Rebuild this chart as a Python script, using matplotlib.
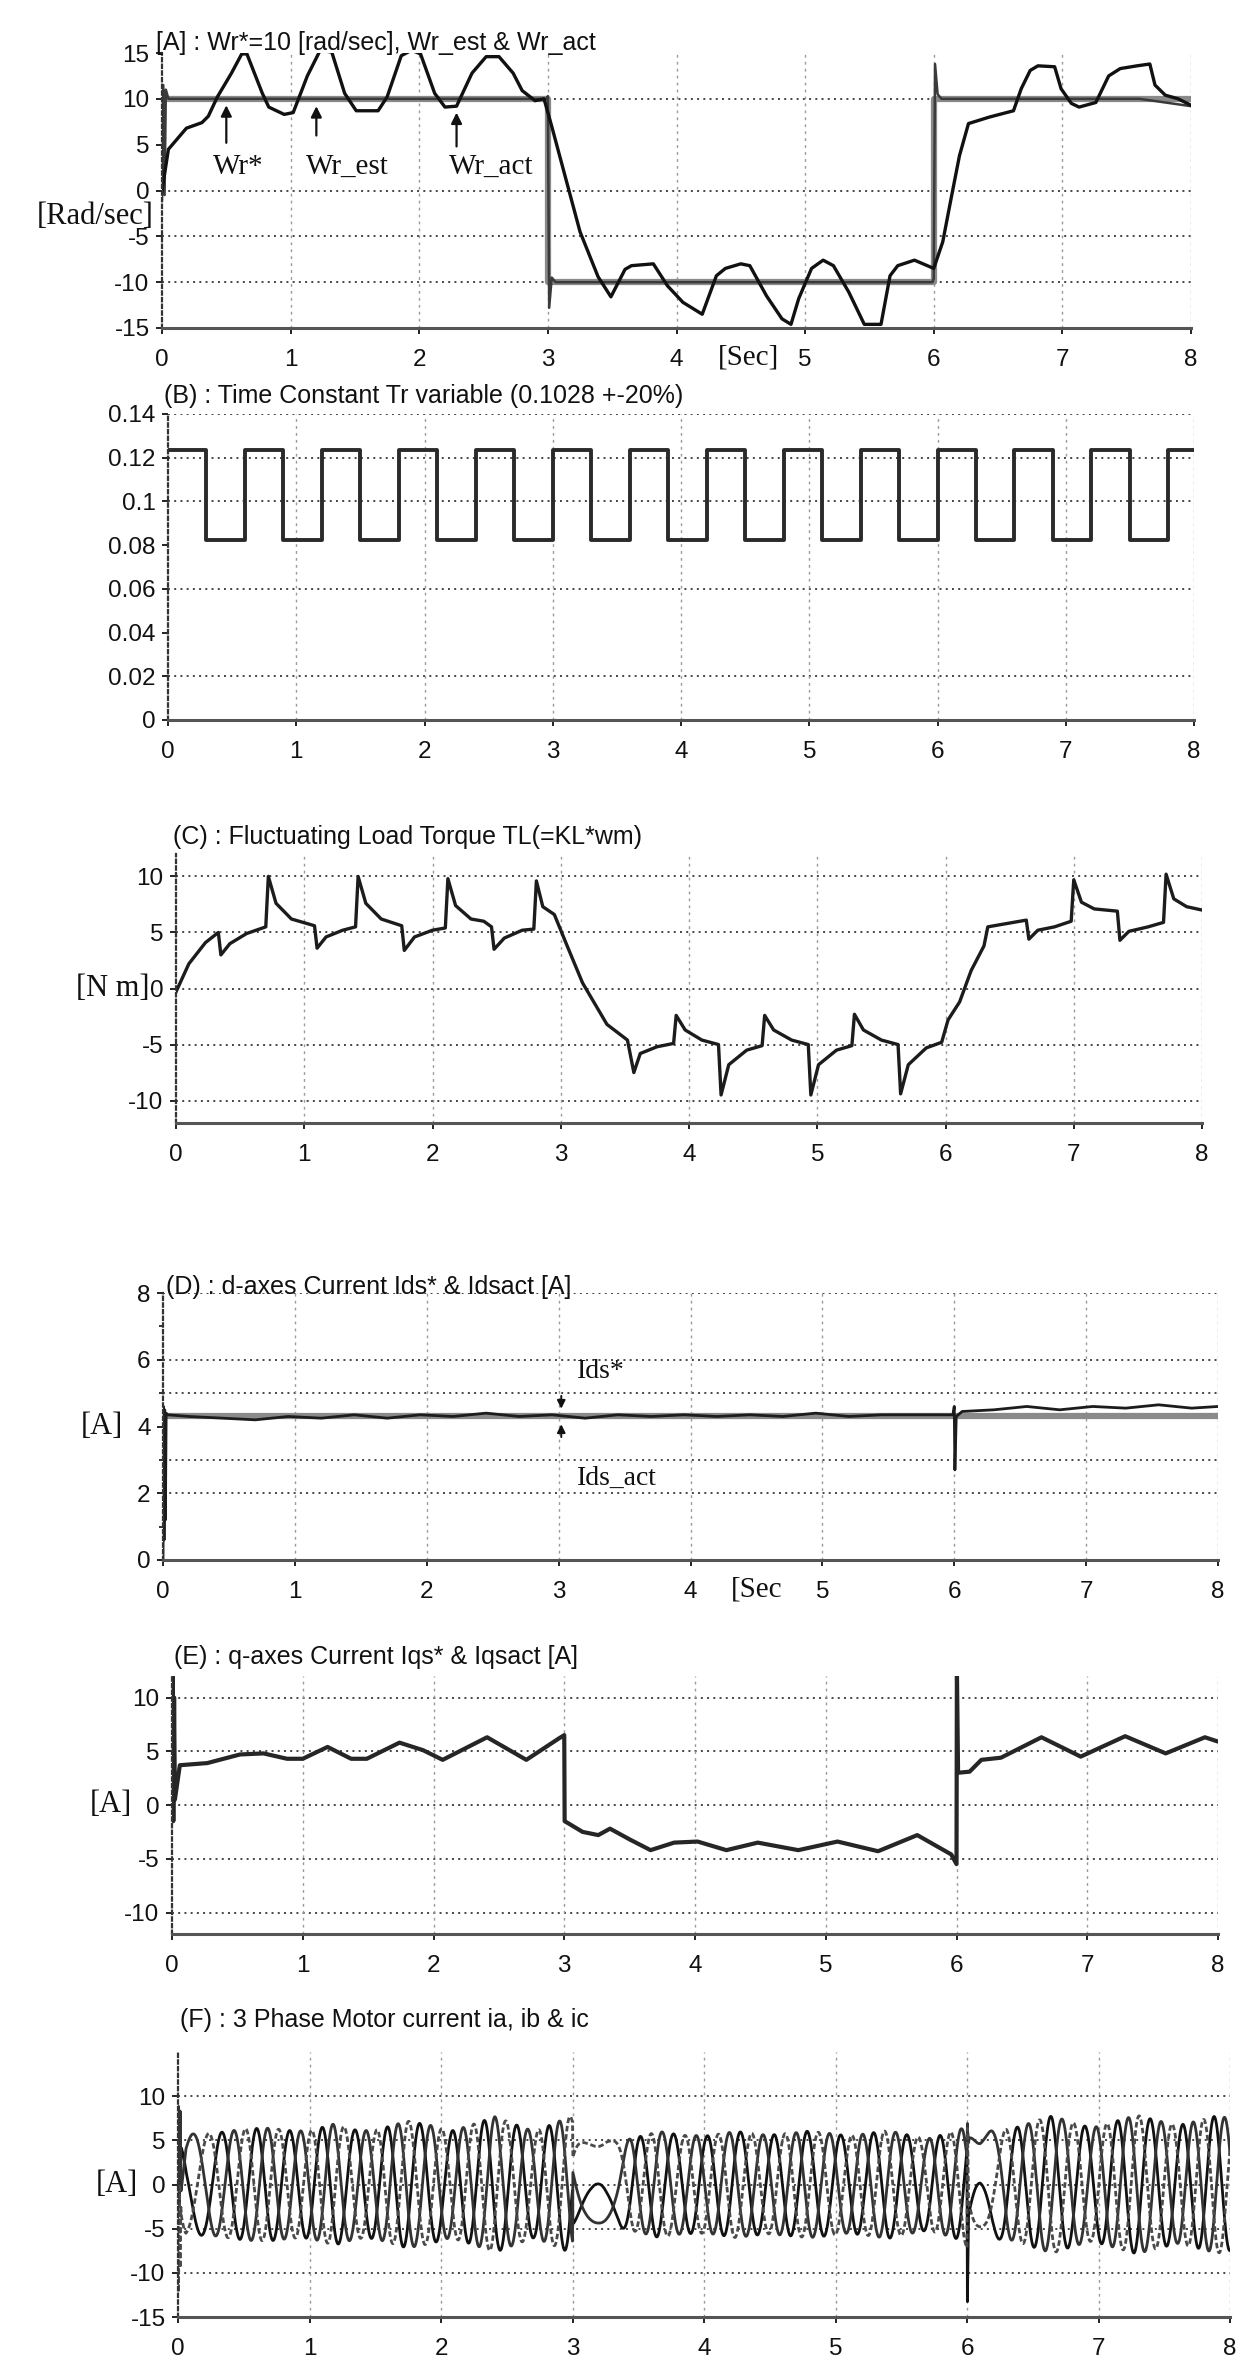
import numpy as np
import matplotlib
matplotlib.use("Agg")
import matplotlib.pyplot as plt

W, H = 1248, 2363

SANS = ['Liberation Sans', 'DejaVu Sans']
SERIF = ['Liberation Serif', 'DejaVu Serif']
INK = '#111111'
plt.rcParams['font.family'] = SANS

# ---- (A) rotor speed ----
wr_ref_t = [0, 3, 6, 8]
wr_ref = [10, -10, 10, 10]
wr_est_t = [0, 0.01, 0.02, 0.03, 0.05, 2.99, 3.0, 3.01, 3.03, 3.06,
            5.99, 6.0, 6.01, 6.03, 6.06, 7.6, 7.8, 8.0]
wr_est = [-1, 11.5, -0.5, 11.0, 10.0, 10.0, 10.3, -12.8, -9.5, -10.0,
          -10.0, -9.6, 13.8, 10.5, 10.0, 10.0, 9.6, 9.2]
wr_act_t = [0, 0.05, 0.19, 0.31, 0.36, 0.43, 0.54, 0.62, 0.66, 0.78, 0.83, 0.95,
            1.02, 1.13, 1.23, 1.32, 1.42, 1.51, 1.68, 1.75, 1.86, 1.94, 2.01, 2.12,
            2.2, 2.29, 2.41, 2.52, 2.62, 2.73, 2.8, 2.9, 2.97, 3.03, 3.25, 3.39,
            3.49, 3.6, 3.65, 3.82, 3.93, 4.05, 4.2, 4.31, 4.38, 4.5, 4.57, 4.7,
            4.82, 4.89, 4.95, 5.05, 5.14, 5.22, 5.34, 5.46, 5.59, 5.66, 5.72, 5.85,
            5.95, 6.0, 6.07, 6.14, 6.2, 6.27, 6.43, 6.62, 6.68, 6.75, 6.81, 6.94,
            6.99, 7.07, 7.13, 7.26, 7.36, 7.45, 7.58, 7.68, 7.72, 7.8, 7.9, 8.0]
wr_act = [0, 4.5, 6.8, 7.4, 8.1, 10.2, 12.8, 14.9, 14.9, 10.6, 9.1, 8.3,
          8.5, 12.5, 15.3, 15.1, 10.6, 8.7, 8.7, 10.2, 14.7, 15.3, 14.9, 10.6,
          9.1, 9.2, 12.8, 14.6, 14.6, 12.8, 10.9, 9.8, 10.0, 7.0, -4.5, -9.4,
          -11.6, -8.6, -8.2, -8.0, -10.4, -12.2, -13.5, -9.3, -8.5, -8.0, -8.2, -11.5,
          -14.0, -14.6, -11.8, -8.5, -7.6, -8.2, -11.1, -14.6, -14.6, -9.3, -8.2, -7.6,
          -8.2, -8.5, -5.6, -0.5, 3.8, 7.3, 8.0, 8.7, 11.1, 13.1, 13.6, 13.5,
          11.1, 9.5, 9.1, 9.6, 12.5, 13.3, 13.6, 13.8, 11.5, 10.4, 10.0, 9.3]

# ---- (B) rotor time constant Tr, switching instants ----
tr_t = [0, 0.3, 0.6, 0.9, 1.2, 1.5, 1.8, 2.1, 2.4, 2.7, 3.0, 3.3, 3.6, 3.9,
        4.2, 4.5, 4.8, 5.1, 5.4, 5.7, 6.0, 6.3, 6.6, 6.9, 7.2, 7.5, 7.8, 8.0]
tr_val = [0.1234, 0.0822] * 13 + [0.1234, 0.1234]

# ---- (C) load torque ----
tl_t = [0, 0.1, 0.23, 0.33, 0.35, 0.42, 0.55, 0.70, 0.72, 0.78, 0.9, 1.08, 1.10,
        1.17, 1.3, 1.40, 1.42, 1.48, 1.6, 1.76, 1.78, 1.86, 2.0, 2.10, 2.12, 2.18,
        2.3, 2.40, 2.46, 2.48, 2.56, 2.7, 2.79, 2.81, 2.86, 2.95, 3.05, 3.17, 3.36,
        3.52, 3.57, 3.62, 3.75, 3.88, 3.90, 3.97, 4.1, 4.23, 4.25, 4.31, 4.45, 4.57,
        4.59, 4.66, 4.8, 4.93, 4.95, 5.01, 5.15, 5.27, 5.29, 5.36, 5.5, 5.63, 5.65,
        5.71, 5.85, 5.97, 6.02, 6.11, 6.2, 6.3, 6.33, 6.48, 6.63, 6.65, 6.72, 6.85,
        6.98, 7.0, 7.06, 7.16, 7.34, 7.36, 7.43, 7.58, 7.70, 7.72, 7.78, 7.88, 8.0]
tl = [-0.3, 2.2, 4.1, 5.0, 3.0, 4.0, 4.9, 5.5, 10.0, 7.6, 6.2, 5.6, 3.6,
      4.6, 5.2, 5.5, 10.0, 7.6, 6.2, 5.6, 3.4, 4.6, 5.2, 5.4, 9.8, 7.4,
      6.2, 6.0, 5.5, 3.5, 4.5, 5.2, 5.3, 9.6, 7.3, 6.6, 3.8, 0.5, -3.2,
      -4.6, -7.5, -5.8, -5.2, -4.9, -2.4, -3.7, -4.6, -5.0, -9.5, -6.8, -5.5, -5.1,
      -2.4, -3.7, -4.6, -5.0, -9.5, -6.8, -5.5, -5.1, -2.3, -3.7, -4.6, -5.0, -9.4,
      -6.8, -5.3, -4.8, -2.8, -1.2, 1.6, 3.8, 5.5, 5.8, 6.1, 4.4, 5.2, 5.5,
      6.0, 9.7, 7.7, 7.1, 6.9, 4.3, 5.1, 5.5, 5.9, 10.2, 8.0, 7.3, 7.0]

# ---- (D) d-axis current ----
ids_t = [0, 0.003, 0.008, 0.013, 0.018, 0.024, 0.035, 0.2, 0.45, 0.7, 0.95, 1.2,
         1.45, 1.7, 1.95, 2.2, 2.45, 2.7, 2.95, 3.2, 3.45, 3.7, 3.95, 4.2, 4.45,
         4.7, 4.95, 5.2, 5.45, 5.7, 5.99, 6.0, 6.005, 6.015, 6.06, 6.3, 6.55, 6.8,
         7.05, 7.3, 7.55, 7.8, 8.0]
ids_act = [0.0, 4.6, 0.6, 4.5, 1.2, 4.4, 4.35, 4.3, 4.25, 4.2, 4.3, 4.25,
           4.35, 4.25, 4.35, 4.3, 4.4, 4.3, 4.35, 4.25, 4.35, 4.3, 4.35, 4.3, 4.35,
           4.3, 4.4, 4.3, 4.35, 4.35, 4.35, 4.6, 2.7, 4.3, 4.45, 4.5, 4.6, 4.5,
           4.6, 4.55, 4.65, 4.55, 4.6]
ids_ref = 4.3

# ---- (E) q-axis current ----
iqs_t = [0, 0.004, 0.01, 0.016, 0.022, 0.06, 0.27, 0.52, 0.7, 0.88, 1.0, 1.19,
         1.37, 1.49, 1.74, 1.92, 2.07, 2.41, 2.71, 2.96, 3.0, 3.003, 3.14, 3.26,
         3.35, 3.5, 3.66, 3.84, 4.02, 4.24, 4.48, 4.79, 5.09, 5.4, 5.7, 5.96,
         6.0, 6.003, 6.012, 6.1, 6.19, 6.34, 6.65, 6.95, 7.29, 7.6, 7.9, 8.0]
iqs = [0, 12, -1.5, 10, 0.5, 3.7, 3.9, 4.7, 4.8, 4.3, 4.3, 5.4,
       4.3, 4.3, 5.8, 5.1, 4.2, 6.3, 4.2, 6.2, 6.5, -1.5, -2.5, -2.8,
       -2.2, -3.2, -4.2, -3.5, -3.4, -4.2, -3.5, -4.2, -3.4, -4.3, -2.8, -4.6,
       -5.5, 12.8, 3.0, 3.1, 4.2, 4.4, 6.3, 4.5, 6.4, 4.8, 6.3, 5.9]

# ---- (F) synchronous frequency of the stator currents [Hz] ----
fs_t = [0.0, 0.1, 0.3, 0.6, 2.98, 3.0, 3.08, 3.2, 3.32, 3.45,
        5.98, 6.0, 6.05, 6.1, 6.2, 6.3, 8.0]
fs_hz = [1.2, 2.4, 3.4, 4.0, 4.1, 2.8, 1.5, 0.0, -1.8, -3.9,
         -4.0, -3.0, -1.5, 0.0, 2.2, 3.8, 4.2]

titles = ['[A] : Wr*=10 [rad/sec], Wr_est & Wr_act',
          '(B) : Time Constant Tr variable (0.1028 +-20%)',
          '(C) : Fluctuating Load Torque TL(=KL*wm)',
          '(D) : d-axes Current Ids* & Idsact [A]',
          '(E) : q-axes Current Iqs* & Iqsact [A]',
          '(F) : 3 Phase Motor current ia, ib & ic']

fig = plt.figure(figsize=(W / 100, H / 100), dpi=100)


def px_axes(l, r, t, b):
    return fig.add_axes([l / W, 1 - b / H, (r - l) / W, (b - t) / H])


def fig_text(x, y, s, **kw):
    return fig.text(x / W, 1 - y / H, s, **kw)


def style(ax, ylim, yticks, ylabels, grid_y=None):
    ax.set_xlim(0, 8)
    ax.set_ylim(*ylim)
    for s in ('top', 'right'):
        ax.spines[s].set_visible(False)
    ax.spines['left'].set_linestyle((0, (1.5, 1.5)))
    ax.spines['left'].set_color('#333333')
    ax.spines['left'].set_linewidth(1.6)
    ax.spines['bottom'].set_color('#555555')
    ax.spines['bottom'].set_linewidth(2.2)
    ax.set_xticks(range(9))
    ax.set_yticks(yticks)
    ax.set_yticklabels(ylabels)
    ax.tick_params(direction='out', length=4, width=1.3, colors=INK,
                   labelsize=17.5, pad=5)
    ax.tick_params(axis='x', pad=11)
    for y in (yticks if grid_y is None else grid_y):
        ax.axhline(y, color='#444444', lw=1.4, ls=(0, (1, 2.2)), zorder=0)
    for x in range(1, 9):
        ax.axvline(x, color='#9a9a9a', lw=1.0, ls=(0, (2, 3)), zorder=0)


def sec_label(ax, x, s):
    ax.annotate(s, xy=(x, 0), xycoords=('data', 'axes fraction'),
                xytext=(0, -21), textcoords='offset points', ha='center',
                va='center', fontsize=21, family=SERIF, color=INK)


# (A)
ax = px_axes(162, 1191, 53, 328)
style(ax, (-15, 15), [15, 10, 5, 0, -5, -10, -15],
      ['15', '10', '5', '0', '-5', '-10', '-15'], grid_y=[10, 0, -5, -10])
ax.plot(wr_ref_t, wr_ref, drawstyle='steps-post', color='#8a8a8a', lw=4.5)
ax.plot(wr_est_t, wr_est, color='#3a3a3a', lw=1.8)
ax.plot(wr_act_t, wr_act, color='#111111', lw=2.4)
for tx, t0, y0, ty, lbl in [(0.50, 0.40, 4.9, 9.6, 'Wr*'),
                            (1.20, 1.12, 5.7, 9.5, 'Wr_est'),
                            (2.29, 2.23, 4.5, 8.8, 'Wr_act')]:
    ax.annotate('', xy=(tx, ty), xytext=(tx, y0),
                arrowprops=dict(arrowstyle='-|>', color=INK, lw=1.6,
                                mutation_scale=16))
    ax.text(t0, 2.6, lbl, fontsize=21, family=SERIF, color=INK,
            ha='left', va='center')
sec_label(ax, 4.56, '[Sec]')
fig_text(154, 217, '[Rad/sec]', fontsize=22, family=SERIF, color=INK,
         ha='right', va='center')
fig_text(156, 43, titles[0], fontsize=18, color=INK, ha='left', va='center')

# (B)
ax = px_axes(168, 1194, 414, 720)
style(ax, (0, 0.14), [0.14, 0.12, 0.1, 0.08, 0.06, 0.04, 0.02, 0],
      ['0.14', '0.12', '0.1', '0.08', '0.06', '0.04', '0.02', '0'],
      grid_y=[0.14, 0.12, 0.1, 0.06, 0.02])
ax.plot(tr_t, tr_val, drawstyle='steps-post', color='#2a2a2a', lw=2.8)
fig_text(164, 396, titles[1], fontsize=18, color=INK, ha='left', va='center')

# (C)
ax = px_axes(176, 1202, 854, 1123)
style(ax, (-12, 12), [10, 5, 0, -5, -10], ['10', '5', '0', '-5', '-10'])
ax.plot(tl_t, tl, color='#1c1c1c', lw=2.4)
fig_text(150, 989, '[N m]', fontsize=22, family=SERIF, color=INK,
         ha='right', va='center')
fig_text(173, 837, titles[2], fontsize=18, color=INK, ha='left', va='center')

# (D)
ax = px_axes(163, 1218, 1293, 1560)
style(ax, (0, 8), [8, 6, 4, 2, 0], ['8', '6', '4', '2', '0'],
      grid_y=[8, 6, 5, 3, 2])
ax.set_yticks([1, 3, 5, 7], minor=True)
ax.tick_params(which='minor', direction='out', length=3, width=1.2, colors=INK)
ax.axhline(ids_ref, color='#8a8a8a', lw=4.5)
ax.plot(ids_t, ids_act, color='#1c1c1c', lw=2.0)
ax.annotate('', xy=(3.02, 4.45), xytext=(3.02, 5.0),
            arrowprops=dict(arrowstyle='-|>', color=INK, lw=1.4, mutation_scale=12))
ax.annotate('', xy=(3.02, 4.15), xytext=(3.02, 3.6),
            arrowprops=dict(arrowstyle='-|>', color=INK, lw=1.4, mutation_scale=12))
ax.text(3.14, 5.65, 'Ids*', fontsize=20, family=SERIF, color=INK, va='center')
ax.text(3.14, 2.46, 'Ids_act', fontsize=20, family=SERIF, color=INK, va='center')
sec_label(ax, 4.5, '[Sec')
fig_text(123, 1427, '[A]', fontsize=22, family=SERIF, color=INK,
         ha='right', va='center')
fig_text(166, 1287, titles[3], fontsize=18, color=INK, ha='left', va='center')

# (E)
ax = px_axes(172, 1218, 1676, 1934)
style(ax, (-12, 12), [10, 5, 0, -5, -10], ['10', '5', '0', '-5', '-10'])
ax.plot(iqs_t, iqs, color='#262626', lw=3.0)
fig_text(132, 1805, '[A]', fontsize=22, family=SERIF, color=INK,
         ha='right', va='center')
fig_text(174, 1657, titles[4], fontsize=18, color=INK, ha='left', va='center')

# (F) phase currents from the d-q currents above (inverse Park)
tt = np.linspace(0, 8, 8001)
id_f = np.interp(tt, ids_t, ids_act)
iq_f = np.interp(tt, iqs_t, iqs)
theta = 2 * np.pi * np.cumsum(np.interp(tt, fs_t, fs_hz)) * (tt[1] - tt[0])
ax = px_axes(178, 1230, 2052, 2317)
style(ax, (-15, 15), [10, 5, 0, -5, -10, -15],
      ['10', '5', '0', '-5', '-10', '-15'])
for shift, col, ls in [(0, '#111111', '-'), (-2 * np.pi / 3, '#333333', '-'),
                       (2 * np.pi / 3, '#4a4a4a', (0, (2, 1)))]:
    ax.plot(tt, id_f * np.cos(theta + shift) - iq_f * np.sin(theta + shift),
            color=col, lw=2.0, ls=ls)
fig_text(138, 2184, '[A]', fontsize=22, family=SERIF, color=INK,
         ha='right', va='center')
fig_text(180, 2020, titles[5], fontsize=18, color=INK, ha='left', va='center')

fig.savefig('out.png', dpi=100, facecolor='white')
